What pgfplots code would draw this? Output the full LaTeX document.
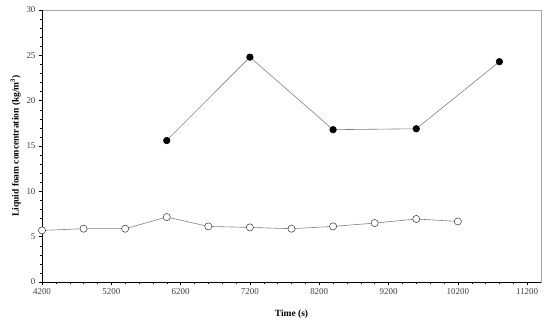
\documentclass[border=0pt]{standalone}
\usepackage{pgfplots}
\pgfplotsset{compat=1.18}
\usepackage{fontspec}
\setmainfont{Liberation Serif}
\begin{document}
\begin{tikzpicture}[x=1bp,y=1bp]
\begin{axis}[
  at={(42bp,45bp)}, anchor=south west,
  scale only axis, width=499bp, height=272bp,
  xmin=4200, xmax=11400, ymin=0, ymax=30,
  xtick={4200,5200,...,11200}, minor x tick num=4,
  ytick={0,5,...,30}, minor y tick num=4,
  xtick pos=left, ytick pos=left, tick align=outside,
  major tick length=3bp, minor tick length=2bp,
  tick style={black, line width=0.4pt},
  axis line style={gray!70, line width=0.6pt},
  tick label style={font=\fontsize{9}{10}\selectfont, text=black!75},
  /pgf/number format/assume math mode=true,
  scaled x ticks=false,
  xticklabel style={/pgf/number format/1000 sep={}},
  xlabel={\textbf{Time (s)}},
  ylabel={\textbf{Liquid foam concentration (kg/m\textsuperscript{3})}},
  label style={font=\fontsize{9.5}{11}\selectfont},
  xlabel style={yshift=-9bp},
  ylabel style={yshift=-1bp},
  clip=false,
]
\addplot[gray, line width=0.6pt, mark=*, mark size=3.6pt, mark options={fill=white, draw=black!80, line width=0.5pt}]
coordinates {(4200,5.69) (4800,5.88) (5400,5.88) (6000,7.16) (6600,6.13) (7200,6.02) (7800,5.88) (8400,6.13) (9000,6.5) (9600,6.95) (10200,6.68)};
\addplot[gray, line width=0.6pt, mark=*, mark size=3.3pt, mark options={fill=black, draw=black}]
coordinates {(6000,15.6) (7200,24.8) (8400,16.8) (9600,16.9) (10800,24.3)};
\draw[black, line width=0.7pt] (rel axis cs:0,1) -- (rel axis cs:0,0) -- (rel axis cs:1,0);
\end{axis}
\path (0,0) rectangle (550,327);
\end{tikzpicture}
\end{document}
